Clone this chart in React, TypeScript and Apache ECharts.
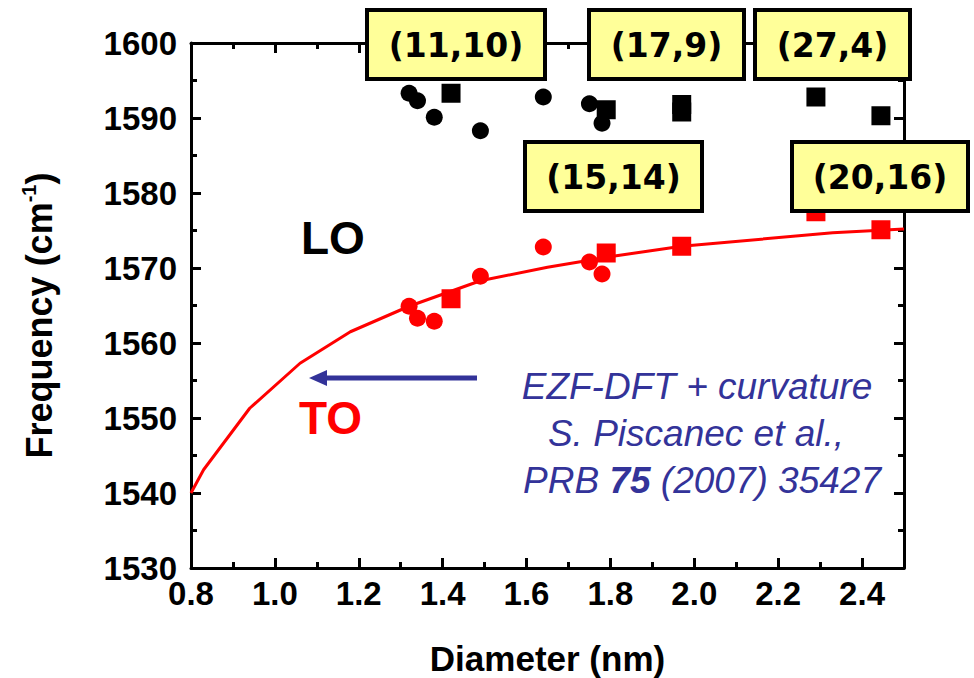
import React, { useEffect, useRef } from 'react';
import * as echarts from 'echarts';

// ---- data ----
const X_MIN = 0.8;
const X_MAX = 2.5;
const Y_MIN = 1530;
const Y_MAX = 1600;

// LO (black) measured points
const loCircleD = [1.32, 1.34, 1.38, 1.49, 1.64, 1.75, 1.78];
const loCircleF = [1593.3, 1592.3, 1590.1, 1588.3, 1592.8, 1591.9, 1589.3];
const loSquareD = [1.42, 1.79, 1.97, 1.97, 2.29, 2.445];
const loSquareF = [1593.3, 1591.1, 1591.8, 1590.8, 1592.8, 1590.3];

// TO (red) measured points
const toCircleD = [1.32, 1.34, 1.38, 1.49, 1.64, 1.75, 1.78];
const toCircleF = [1564.9, 1563.3, 1562.9, 1568.9, 1572.8, 1570.8, 1569.2];
const toSquareD = [1.42, 1.79, 1.97, 2.29, 2.445];
const toSquareF = [1565.9, 1572.0, 1572.9, 1577.5, 1575.1];

// EZF-DFT + curvature theory (TO)
const theoryD = [0.8, 0.83, 0.94, 1.06, 1.18, 1.32, 1.49, 1.65, 1.81, 1.97, 2.33, 2.5];
const theoryF = [1540.0, 1543.1, 1551.3, 1557.3, 1561.5, 1564.9, 1568.3, 1570.1, 1571.6, 1572.9, 1574.7, 1575.2];

// chirality labels
const chiralLabels = ['(11,10)', '(17,9)', '(27,4)', '(15,14)', '(20,16)'];

const citationLines = ['EZF-DFT + curvature', 'S. Piscanec et al.,'];

// ---- layout (pixels) ----
const boxRects = [
  [365, 8, 182, 73],
  [587, 8, 159, 73],
  [753, 8, 159, 73],
  [523, 140, 181, 73],
  [790, 140, 180, 73],
];

const SANS = "'Liberation Sans', Arial, sans-serif";
const BOX_FONT = "'DejaVu Sans', sans-serif";
const BLUE = '#333399';

const zip = (a: number[], b: number[]) => a.map((v, i) => [v, b[i]]);

export default function App() {
  const ref = useRef<HTMLDivElement>(null);
  useEffect(() => {
    if (!ref.current) return;
    const chart = echarts.init(ref.current, null, { renderer: 'svg' });

    const tickLine = { color: '#000', width: 3 };
    const baseX: any = {
      type: 'value',
      min: X_MIN,
      max: X_MAX,
      splitLine: { show: false },
      axisLabel: { show: false },
      axisLine: { show: false, onZero: false },
    };

    const boxes: any[] = [];
    boxRects.forEach((r, i) => {
      const [x, y, w, h] = r;
      boxes.push({
        type: 'rect',
        z: 100,
        shape: { x: x + 2, y: y + 2, width: w - 4, height: h - 4 },
        style: { fill: '#FFFF99', stroke: '#000', lineWidth: 4 },
      });
      boxes.push({
        type: 'text',
        z: 101,
        x: x + w / 2,
        y: y + h / 2 + 1,
        style: {
          text: chiralLabels[i],
          fontSize: 33,
          fontWeight: 'bold',
          fontFamily: BOX_FONT,
          fill: '#000',
          align: 'center',
          verticalAlign: 'middle',
        },
      });
    });

    const citStyle = { fontSize: 37, fontStyle: 'italic', fontFamily: SANS, fill: BLUE };
    const solid = (c: string) => ({ color: c, opacity: 1 });

    chart.setOption({
      animation: false,
      backgroundColor: '#fff',
      grid: { left: 191, top: 43, width: 713, height: 525, outerBoundsMode: 'none' },
      xAxis: [
        {
          ...baseX,
          position: 'bottom',
          interval: 0.2,
          axisLine: { show: true, onZero: false, lineStyle: tickLine },
          axisTick: { inside: true, length: 10, lineStyle: tickLine },
          axisLabel: {
            show: true,
            margin: 9,
            fontSize: 33,
            fontWeight: 'bold',
            fontFamily: SANS,
            color: '#000',
            formatter: (v: number) => (v > 2.45 ? '' : v.toFixed(1)),
          },
          name: 'Diameter (nm)',
          nameLocation: 'middle',
          nameGap: 73,
          nameTextStyle: { fontSize: 35, fontWeight: 'bold', fontFamily: SANS, color: '#000' },
        },
        {
          ...baseX,
          position: 'bottom',
          interval: 0.1,
          axisTick: { inside: true, length: 6, lineStyle: tickLine },
        },
        {
          ...baseX,
          position: 'top',
          interval: 0.2,
          axisLine: { show: true, onZero: false, lineStyle: tickLine },
          axisTick: { inside: true, length: 10, lineStyle: tickLine },
        },
        {
          ...baseX,
          position: 'top',
          interval: 0.1,
          axisTick: { inside: true, length: 6, lineStyle: tickLine },
        },
      ],
      yAxis: [
        {
          type: 'value',
          position: 'left',
          min: Y_MIN,
          max: Y_MAX,
          interval: 10,
          splitLine: { show: false },
          axisLine: { show: true, onZero: false, lineStyle: tickLine },
          axisTick: { inside: true, length: 10, lineStyle: tickLine },
          minorTick: { show: true, splitNumber: 2, length: 6, lineStyle: tickLine },
          minorSplitLine: { show: false },
          axisLabel: {
            margin: 14,
            fontSize: 33,
            fontWeight: 'bold',
            fontFamily: SANS,
            color: '#000',
            formatter: (v: number) => String(Math.round(v)),
          },
          name: '{a|Frequency (cm}{s|-1}{a|)}',
          nameLocation: 'middle',
          nameRotate: 90,
          nameGap: 132,
          nameTextStyle: {
            padding: [0, 20, 0, 0],
            rich: {
              a: { fontSize: 36, fontWeight: 'bold', fontFamily: SANS, color: '#000', lineHeight: 40 },
              s: { fontSize: 20, fontWeight: 'bold', fontFamily: SANS, color: '#000', verticalAlign: 'top', lineHeight: 22 },
            },
          },
        },
        {
          type: 'value',
          position: 'right',
          min: Y_MIN,
          max: Y_MAX,
          interval: 10,
          splitLine: { show: false },
          axisLine: { show: true, onZero: false, lineStyle: tickLine },
          axisTick: { inside: true, length: 10, lineStyle: tickLine },
          minorTick: { show: true, splitNumber: 2, length: 6, lineStyle: tickLine },
          minorSplitLine: { show: false },
          axisLabel: { show: false },
        },
      ],
      series: [
        {
          name: 'TO theory',
          type: 'line',
          data: zip(theoryD, theoryF),
          showSymbol: false,
          lineStyle: { color: '#ff0000', width: 3 },
          z: 3,
        },
        {
          name: 'LO circles',
          type: 'scatter',
          symbol: 'circle',
          symbolSize: 17,
          itemStyle: solid('#000'),
          data: zip(loCircleD, loCircleF),
        },
        {
          name: 'LO squares',
          type: 'scatter',
          symbol: 'rect',
          symbolSize: 19,
          itemStyle: solid('#000'),
          data: zip(loSquareD, loSquareF),
        },
        {
          name: 'TO circles',
          type: 'scatter',
          symbol: 'circle',
          symbolSize: 17,
          itemStyle: solid('#ff0000'),
          data: zip(toCircleD, toCircleF),
        },
        {
          name: 'TO squares',
          type: 'scatter',
          symbol: 'rect',
          symbolSize: 19,
          itemStyle: solid('#ff0000'),
          data: zip(toSquareD, toSquareF),
        },
      ],
      graphic: [
        {
          type: 'text',
          x: 301,
          y: 238,
          z: 50,
          style: { text: 'LO', fontSize: 46, fontWeight: 'bold', fontFamily: SANS, fill: '#000', verticalAlign: 'middle' },
        },
        {
          type: 'text',
          x: 299,
          y: 418,
          z: 50,
          style: { text: 'TO', fontSize: 46, fontWeight: 'bold', fontFamily: SANS, fill: '#ff0000', verticalAlign: 'middle' },
        },
        {
          type: 'line',
          z: 50,
          shape: { x1: 477, y1: 378, x2: 322, y2: 378 },
          style: { stroke: BLUE, lineWidth: 5 },
        },
        {
          type: 'polygon',
          z: 50,
          shape: { points: [[309, 378], [327, 370], [327, 386]] },
          style: { fill: BLUE },
        },
        {
          type: 'text',
          x: 697,
          y: 386,
          z: 50,
          style: { ...citStyle, text: citationLines[0], align: 'center', verticalAlign: 'middle' },
        },
        {
          type: 'text',
          x: 696,
          y: 433,
          z: 50,
          style: { ...citStyle, text: citationLines[1], align: 'center', verticalAlign: 'middle' },
        },
        {
          type: 'text',
          x: 702,
          y: 480,
          z: 50,
          style: {
            ...citStyle,
            text: '{i|PRB }{b|75}{i| (2007) 35427}',
            align: 'center',
            verticalAlign: 'middle',
            rich: {
              i: { ...citStyle },
              b: { ...citStyle, fontWeight: 'bold' },
            },
          },
        },
        ...boxes,
      ],
    });
    return () => chart.dispose();
  }, []);

  return (
    <div
      ref={ref}
      style={{ position: 'absolute', left: 0, top: 0, width: 974, height: 678, background: '#fff' }}
    />
  );
}
